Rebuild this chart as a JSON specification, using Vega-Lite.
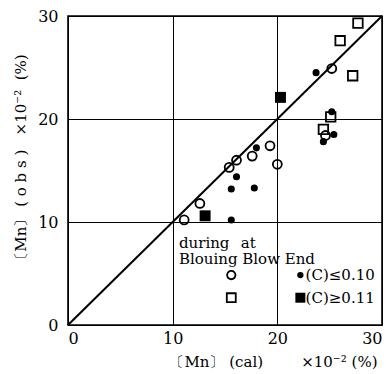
{
  "$schema": "https://vega.github.io/schema/vega-lite/v6.json",
  "width": 314,
  "height": 309,
  "autosize": {"type": "none"},
  "padding": {"left": 68, "top": 16, "right": 8, "bottom": 49},
  "background": "white",
  "config": {
    "view": {"stroke": "black", "strokeWidth": 1.6},
    "font": "DejaVu Serif",
    "axis": {
      "domain": false,
      "ticks": false,
      "grid": true,
      "gridColor": "black",
      "gridOpacity": 1,
      "gridWidth": 1,
      "labelFont": "DejaVu Serif",
      "labelFontSize": 16,
      "labelColor": "black",
      "titleFont": "DejaVu Serif",
      "titleFontSize": 15,
      "titleFontWeight": "normal",
      "titleColor": "black"
    }
  },
  "datasets": {
    "points": [
      {"cal": 11.1, "obs": 10.2, "kind": "during", "c": "low"},
      {"cal": 12.6, "obs": 11.8, "kind": "during", "c": "low"},
      {"cal": 15.4, "obs": 15.3, "kind": "during", "c": "low"},
      {"cal": 16.1, "obs": 16.0, "kind": "during", "c": "low"},
      {"cal": 17.6, "obs": 16.4, "kind": "during", "c": "low"},
      {"cal": 19.3, "obs": 17.4, "kind": "during", "c": "low"},
      {"cal": 20.0, "obs": 15.6, "kind": "during", "c": "low"},
      {"cal": 25.2, "obs": 24.9, "kind": "during", "c": "low"},
      {"cal": 24.6, "obs": 18.4, "kind": "during", "c": "low"},
      {"cal": 23.7, "obs": 24.5, "kind": "end", "c": "low"},
      {"cal": 25.2, "obs": 20.7, "kind": "end", "c": "low"},
      {"cal": 25.4, "obs": 18.5, "kind": "end", "c": "low"},
      {"cal": 24.4, "obs": 17.8, "kind": "end", "c": "low"},
      {"cal": 18.0, "obs": 17.2, "kind": "end", "c": "low"},
      {"cal": 16.1, "obs": 14.4, "kind": "end", "c": "low"},
      {"cal": 15.6, "obs": 13.2, "kind": "end", "c": "low"},
      {"cal": 17.8, "obs": 13.3, "kind": "end", "c": "low"},
      {"cal": 15.6, "obs": 10.2, "kind": "end", "c": "low"},
      {"cal": 27.7, "obs": 29.3, "kind": "during", "c": "high"},
      {"cal": 26.0, "obs": 27.6, "kind": "during", "c": "high"},
      {"cal": 27.2, "obs": 24.2, "kind": "during", "c": "high"},
      {"cal": 25.1, "obs": 20.2, "kind": "during", "c": "high"},
      {"cal": 24.4, "obs": 19.0, "kind": "during", "c": "high"},
      {"cal": 20.3, "obs": 22.1, "kind": "end", "c": "high"},
      {"cal": 13.1, "obs": 10.6, "kind": "end", "c": "high"}
    ],
    "diag": [
      {"cal": 0, "obs": 0},
      {"cal": 30, "obs": 30}
    ],
    "one": [{}]
  },
  "layer": [
    {
      "data": {"name": "diag"},
      "mark": {"type": "line", "color": "black", "strokeWidth": 2},
      "encoding": {
        "x": {"field": "cal", "type": "quantitative", "scale": {"domain": [0, 30]},
          "axis": {"values": [0, 10, 20, 30], "labelPadding": 5,
            "title": "〔Mn〕\u00a0(cal)\u00a0\u00a0\u00a0\u00a0\u00a0\u00a0\u00a0\u00a0×10⁻²\u00a0(%)", "titleX": 309, "titleY": 36, "titleAlign": "right", "titleBaseline": "middle"}},
        "y": {"field": "obs", "type": "quantitative", "scale": {"domain": [0, 30]},
          "axis": {"values": [0, 10, 20, 30], "labelPadding": 10,
            "title": "〔Mn〕\u00a0(\u00a0o\u00a0b\u00a0s\u00a0)\u00a0\u00a0\u00a0×10⁻²\u00a0\u00a0(%)", "titleX": -48, "titleY": 144, "titleAlign": "center", "titleBaseline": "middle"}}
      }
    },
    {
      "data": {"name": "points"},
      "transform": [{"filter": "datum.kind === 'during' && datum.c === 'low'"}],
      "mark": {"type": "point", "shape": "circle", "filled": false, "color": "black", "strokeWidth": 1.8, "size": 80, "opacity": 1},
      "encoding": {"x": {"field": "cal", "type": "quantitative"}, "y": {"field": "obs", "type": "quantitative"}}
    },
    {
      "data": {"name": "points"},
      "transform": [{"filter": "datum.kind === 'end' && datum.c === 'low'"}],
      "mark": {"type": "point", "shape": "circle", "filled": true, "color": "black", "size": 50, "opacity": 1},
      "encoding": {"x": {"field": "cal", "type": "quantitative"}, "y": {"field": "obs", "type": "quantitative"}}
    },
    {
      "data": {"name": "points"},
      "transform": [{"filter": "datum.kind === 'during' && datum.c === 'high'"}],
      "mark": {"type": "point", "shape": "square", "filled": false, "color": "black", "strokeWidth": 1.8, "size": 90, "opacity": 1},
      "encoding": {"x": {"field": "cal", "type": "quantitative"}, "y": {"field": "obs", "type": "quantitative"}}
    },
    {
      "data": {"name": "points"},
      "transform": [{"filter": "datum.kind === 'end' && datum.c === 'high'"}],
      "mark": {"type": "point", "shape": "square", "filled": true, "color": "black", "size": 120, "opacity": 1},
      "encoding": {"x": {"field": "cal", "type": "quantitative"}, "y": {"field": "obs", "type": "quantitative"}}
    },
    {
      "data": {"name": "one"},
      "mark": {"type": "text", "align": "left", "baseline": "middle", "fontSize": 15, "color": "black", "font": "DejaVu Serif"},
      "encoding": {"x": {"datum": 10.6}, "y": {"datum": 8.0}, "text": {"value": "during"}}
    },
    {
      "data": {"name": "one"},
      "mark": {"type": "text", "align": "left", "baseline": "middle", "fontSize": 15, "color": "black", "font": "DejaVu Serif"},
      "encoding": {"x": {"datum": 16.5}, "y": {"datum": 8.0}, "text": {"value": "at"}}
    },
    {
      "data": {"name": "one"},
      "mark": {"type": "text", "align": "left", "baseline": "middle", "fontSize": 15, "color": "black", "font": "DejaVu Serif"},
      "encoding": {"x": {"datum": 10.6}, "y": {"datum": 6.4}, "text": {"value": "Blouing Blow End"}}
    },
    {
      "data": {"name": "one"},
      "mark": {"type": "point", "shape": "circle", "filled": false, "color": "black", "strokeWidth": 1.8, "size": 70, "opacity": 1},
      "encoding": {"x": {"datum": 15.6}, "y": {"datum": 4.85}}
    },
    {
      "data": {"name": "one"},
      "mark": {"type": "point", "shape": "square", "filled": false, "color": "black", "strokeWidth": 1.8, "size": 80, "opacity": 1},
      "encoding": {"x": {"datum": 15.6}, "y": {"datum": 2.65}}
    },
    {
      "data": {"name": "one"},
      "mark": {"type": "point", "shape": "circle", "filled": true, "color": "black", "size": 40, "opacity": 1},
      "encoding": {"x": {"datum": 22.2}, "y": {"datum": 4.85}}
    },
    {
      "data": {"name": "one"},
      "mark": {"type": "point", "shape": "square", "filled": true, "color": "black", "size": 100, "opacity": 1},
      "encoding": {"x": {"datum": 22.2}, "y": {"datum": 2.65}}
    },
    {
      "data": {"name": "one"},
      "mark": {"type": "text", "align": "left", "baseline": "middle", "fontSize": 15, "color": "black", "font": "DejaVu Serif"},
      "encoding": {"x": {"datum": 22.7}, "y": {"datum": 4.85}, "text": {"value": "(C)≤0.10"}}
    },
    {
      "data": {"name": "one"},
      "mark": {"type": "text", "align": "left", "baseline": "middle", "fontSize": 15, "color": "black", "font": "DejaVu Serif"},
      "encoding": {"x": {"datum": 22.7}, "y": {"datum": 2.65}, "text": {"value": "(C)≥0.11"}}
    }
  ]
}
